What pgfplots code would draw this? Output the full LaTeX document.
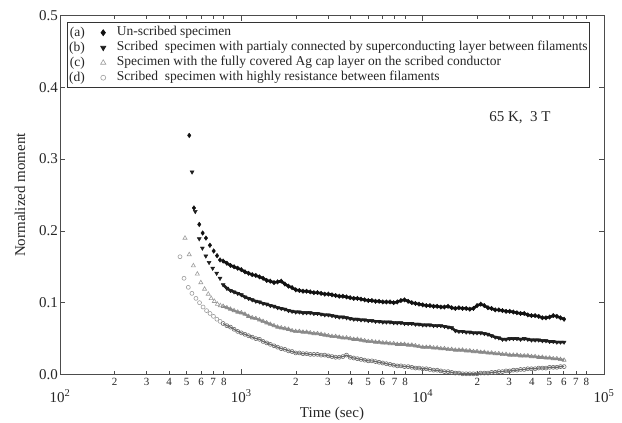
\documentclass[border=0pt]{standalone}
\usepackage{fontspec}
\setmainfont{Liberation Serif}
\usepackage{pgfplots}
\usepackage{pgfplotstable}
\pgfplotsset{compat=1.18}
\definecolor{cA}{HTML}{111111}
\definecolor{cB}{HTML}{1E1E1E}
\definecolor{cC}{HTML}{8A8A8A}
\definecolor{cD}{HTML}{6A6A6A}
\definecolor{txt}{HTML}{262626}

\pgfplotstableread{
t a b c d
794 0.158 0.125 0.095 0.071
832 0.155 0.120 0.093 0.068
871 0.152 0.117 0.091 0.066
912 0.150 0.115 0.089 0.063
955 0.148 0.113 0.087 0.060
1000 0.146 0.111 0.086 0.058
1047 0.143 0.108 0.084 0.056
1096 0.141 0.106 0.081 0.054
1148 0.139 0.104 0.079 0.052
1202 0.138 0.102 0.078 0.050
1259 0.136 0.101 0.076 0.049
1318 0.134 0.099 0.074 0.046
1380 0.131 0.098 0.072 0.044
1445 0.130 0.096 0.070 0.042
1514 0.128 0.095 0.068 0.040
1585 0.129 0.093 0.066 0.038
1660 0.130 0.092 0.065 0.036
1738 0.126 0.091 0.064 0.035
1820 0.123 0.089 0.063 0.033
1905 0.121 0.088 0.061 0.032
1995 0.118 0.087 0.060 0.030
2089 0.117 0.087 0.060 0.030
2188 0.116 0.086 0.059 0.029
2291 0.116 0.086 0.059 0.029
2399 0.115 0.086 0.058 0.028
2512 0.114 0.085 0.057 0.028
2630 0.114 0.085 0.057 0.028
2754 0.113 0.084 0.056 0.027
2884 0.112 0.083 0.055 0.027
3020 0.112 0.083 0.054 0.026
3162 0.111 0.082 0.053 0.025
3311 0.110 0.081 0.053 0.024
3467 0.109 0.080 0.052 0.024
3631 0.109 0.080 0.051 0.025
3802 0.108 0.079 0.051 0.027
3981 0.107 0.078 0.050 0.024
4169 0.106 0.077 0.049 0.023
4365 0.106 0.077 0.049 0.022
4571 0.105 0.076 0.048 0.021
4786 0.104 0.076 0.047 0.020
5012 0.103 0.075 0.046 0.019
5248 0.103 0.075 0.046 0.019
5495 0.102 0.074 0.045 0.018
5754 0.102 0.074 0.045 0.017
6026 0.101 0.073 0.044 0.016
6310 0.101 0.073 0.044 0.015
6607 0.101 0.073 0.043 0.014
6918 0.100 0.072 0.043 0.013
7244 0.101 0.072 0.042 0.012
7586 0.103 0.072 0.042 0.012
7943 0.104 0.071 0.042 0.011
8318 0.102 0.071 0.041 0.011
8710 0.100 0.071 0.041 0.010
9120 0.099 0.070 0.040 0.009
9550 0.098 0.070 0.039 0.009
10000 0.097 0.069 0.038 0.008
10471 0.096 0.069 0.038 0.008
10965 0.096 0.069 0.038 0.007
11482 0.095 0.068 0.037 0.006
12023 0.095 0.068 0.037 0.006
12589 0.094 0.068 0.036 0.005
13183 0.094 0.067 0.036 0.004
13804 0.095 0.066 0.035 0.004
14454 0.093 0.065 0.035 0.003
15136 0.092 0.061 0.034 0.002
15849 0.093 0.060 0.034 0.002
16596 0.092 0.060 0.034 0.001
17378 0.092 0.059 0.033 0.001
18197 0.091 0.059 0.033 0.001
19055 0.092 0.058 0.032 0.001
19953 0.096 0.058 0.032 0.001
20893 0.098 0.058 0.031 0.002
21878 0.096 0.057 0.031 0.002
22909 0.093 0.056 0.030 0.002
23988 0.092 0.054 0.030 0.003
25119 0.090 0.052 0.029 0.003
26303 0.090 0.051 0.029 0.004
27542 0.089 0.049 0.028 0.004
28840 0.088 0.049 0.028 0.005
30200 0.088 0.050 0.027 0.005
31623 0.087 0.050 0.027 0.006
33113 0.086 0.050 0.027 0.006
34674 0.085 0.049 0.026 0.007
36308 0.085 0.050 0.026 0.007
38019 0.083 0.049 0.026 0.008
39811 0.082 0.048 0.025 0.008
41687 0.082 0.048 0.025 0.008
43652 0.081 0.048 0.024 0.009
45709 0.079 0.047 0.024 0.009
47863 0.079 0.047 0.023 0.009
50119 0.080 0.046 0.023 0.010
52481 0.082 0.046 0.022 0.010
54954 0.081 0.045 0.022 0.010
57544 0.079 0.045 0.021 0.011
60256 0.077 0.045 0.020 0.011
}\dense

\tikzset{labnode/.style={anchor=base east, inner sep=0pt, text=txt, text height=0pt, text depth=0pt}}
\pgfplotsset{
  sA/.style={only marks, mark=diamond*, mark size=2.3pt, color=cA,
    legend image code/.code={\node[labnode] at (-18pt,-3.5pt) {(a)};
      \draw[##1,every mark/.append style={scale=1.25}] plot coordinates {(0pt,0pt)};}},
  sB/.style={only marks, mark=triangle*, mark size=2.3pt, mark options={rotate=180}, color=cB,
    legend image code/.code={\node[labnode] at (-18pt,-3.5pt) {(b)};
      \draw[##1,every mark/.append style={scale=1.25}] plot coordinates {(0pt,0pt)};}},
  sC/.style={only marks, mark=triangle, mark size=2.4pt, color=cC!85, mark options={line width=0.6pt},
    legend image code/.code={\node[labnode] at (-18pt,-3.5pt) {(c)};
      \draw[##1,every mark/.append style={scale=1.25}] plot coordinates {(0pt,0pt)};}},
  sD/.style={only marks, mark=o, mark size=2pt, color=cC!85, mark options={line width=0.6pt},
    legend image code/.code={\node[labnode] at (-18pt,-3.5pt) {(d)};
      \draw[##1,every mark/.append style={scale=1.25}] plot coordinates {(0pt,0pt)};}},
}

\begin{document}
\begin{tikzpicture}
\useasboundingbox (-60pt,-48.5pt) rectangle (562pt,374.5pt);
\begin{axis}[
  scale only axis, width=544pt, height=359pt,
  xmode=log, log basis x=10,
  xmin=100, xmax=100000, ymin=0, ymax=0.5,
  clip=false,
  axis line style={draw=black!70, line width=0.8pt},
  every tick/.style={black!70, line width=0.6pt},
  major tick length=5pt, minor tick length=3pt,
  /pgf/number format/assume math mode=true,
  xtick={100,1000,10000,100000},
  xticklabels={10\textsuperscript{2},10\textsuperscript{3},10\textsuperscript{4},10\textsuperscript{5}},
  xticklabel style={font=\fontsize{15}{15}\selectfont, text=txt, yshift=-12pt},
  extra x ticks={200,300,400,500,600,700,800,2000,3000,4000,5000,6000,7000,8000,20000,30000,40000,50000,60000,70000,80000},
  extra x tick labels={2,3,4,5,6,7,8,2,3,4,5,6,7,8,2,3,4,5,6,7,8},
  extra x tick style={major tick length=3pt, xticklabel style={font=\fontsize{11}{11}\selectfont, yshift=12pt}},
  ytick={0,0.1,0.2,0.3,0.4,0.5},
  yticklabel style={font=\fontsize{15}{15}\selectfont, text=txt, inner xsep=2pt,
    /pgf/number format/.cd, fixed, fixed zerofill, precision=1},
  xlabel={Time (sec)},
  ylabel={Normalized moment},
  every axis x label/.style={at={(axis description cs:0.5,-0.110)}, anchor=center, font=\fontsize{15}{15}\selectfont, text=txt},
  every axis y label/.style={at={(axis description cs:-0.0735,0.5)}, rotate=90, anchor=center, font=\fontsize{15}{15}\selectfont, text=txt},
  legend style={at={(axis description cs:0.0123,0.981)}, anchor=north west,
    draw=black!80, line width=0.8pt, font=\fontsize{13.5}{14}\selectfont, text=txt,
    inner xsep=2pt, inner ysep=2.5pt, column sep=11pt, row sep=0pt,
    nodes={inner sep=0pt, text height=10.5pt, text depth=4.5pt}},
  legend cell align=left,
]
\addplot[sA] coordinates {(516,0.333) (548,0.232) (586,0.209) (612,0.197) (638,0.190) (671,0.180) (704,0.172) (735,0.1655) (763,0.1595)};
\addlegendentry{Un-scribed specimen}
\addplot[sB] coordinates {(535,0.282) (557,0.227) (586,0.189) (610,0.176) (637,0.165) (664,0.156) (695,0.148) (731,0.141) (763,0.134)};
\addlegendentry{Scribed\ \ specimen with partialy connected by superconducting layer between filaments\hspace{15pt}}
\addplot[sC] coordinates {(489,0.190) (516,0.167) (544,0.1515) (572,0.140) (598,0.128) (627,0.119) (657,0.112) (682,0.106) (710,0.102) (738,0.098) (766,0.096)};
\addlegendentry{Specimen with the fully covered Ag cap layer on the scribed conductor}
\addplot[sD] coordinates {(459,0.164) (483,0.134) (510,0.1214) (534,0.113) (562,0.106) (588,0.100) (615,0.094) (643,0.089) (672,0.085) (702,0.081) (733,0.077) (764,0.074)};
\addlegendentry{Scribed\ \ specimen with highly resistance between filaments}

\addplot[forget plot, color=cA, line width=2.6pt, line join=round, mark=diamond*, mark size=2.3pt, mark options={line width=0.4pt}] table[x=t, y=a] {\dense};
\addplot[forget plot, color=cB, line width=2.6pt, line join=round, mark=triangle*, mark size=2.3pt, mark options={rotate=180, line width=0.4pt}] table[x=t, y=b] {\dense};
\addplot[forget plot, color=cC, line width=2.2pt, line join=round, mark=triangle, mark size=2.4pt, mark options={line width=0.6pt}] table[x=t, y=c] {\dense};
\addplot[forget plot, color=cD, line width=1.2pt, line join=round, mark=o, mark size=2pt, mark options={line width=0.6pt}] table[x=t, y=d] {\dense};

\node[font=\fontsize{15}{15}\selectfont, text=txt] at (axis cs:34400,0.357) {65 K,\ \ 3 T};
\end{axis}
\end{tikzpicture}
\end{document}
